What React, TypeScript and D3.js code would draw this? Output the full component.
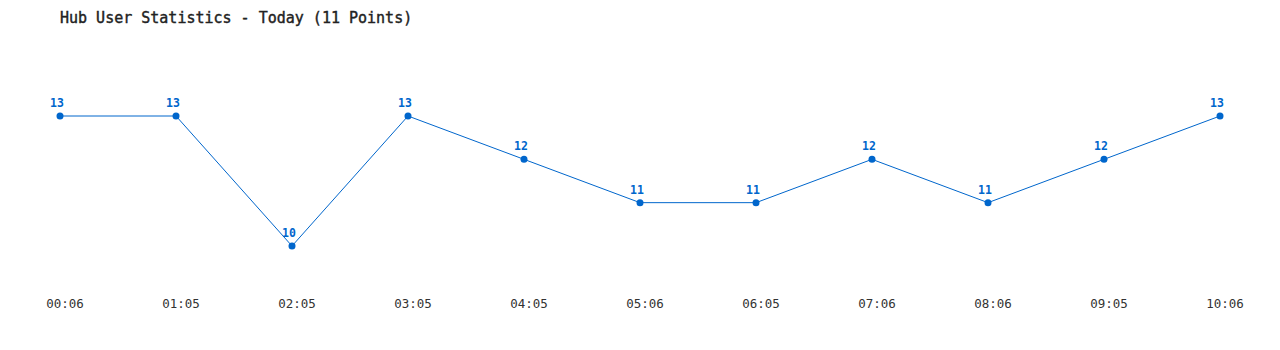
import React from "react";
import * as d3 from "d3";

const times = ["00:06", "01:05", "02:05", "03:05", "04:05", "05:06", "06:05", "07:06", "08:06", "09:05", "10:06"];
const users = [13, 13, 10, 13, 12, 11, 11, 12, 11, 12, 13];

const W = 1280;
const H = 350;
const BLUE = "#0066cc";

export default function App() {
  const x = d3.scalePoint<string>().domain(times).range([60, 1220]);
  const y = d3.scaleLinear().domain([10, 13]).range([246, 116]);
  const line = d3
    .line<number>()
    .x((_, i) => x(times[i]) as number)
    .y((d) => y(d));
  return (
    <svg width={W} height={H} style={{ position: "absolute", left: 0, top: 0, background: "#fff" }}>
      <text x={60} y={23} fontFamily="DejaVu Sans Mono" fontSize={15} fill="#222" stroke="#222" strokeWidth={0.4}>
        Hub User Statistics - Today (11 Points)
      </text>
      <path d={line(users) || ""} fill="none" stroke={BLUE} strokeWidth={1} />
      {users.map((v, i) => (
        <g key={i}>
          <circle cx={x(times[i])} cy={y(v)} r={3.5} fill={BLUE} />
          <text
            x={x(times[i]) as number - 3}
            y={y(v) - 9}
            textAnchor="middle"
            fontFamily="DejaVu Sans Mono"
            fontSize={11.5}
            fontWeight="bold"
            fill={BLUE}
          >
            {v}
          </text>
        </g>
      ))}
      {times.map((t, i) => (
        <text
          key={t}
          x={(x(t) as number) + 5}
          y={308}
          textAnchor="middle"
          fontFamily="DejaVu Sans Mono"
          fontSize={12.5}
          fill="#333"
        >
          {t}
        </text>
      ))}
    </svg>
  );
}
